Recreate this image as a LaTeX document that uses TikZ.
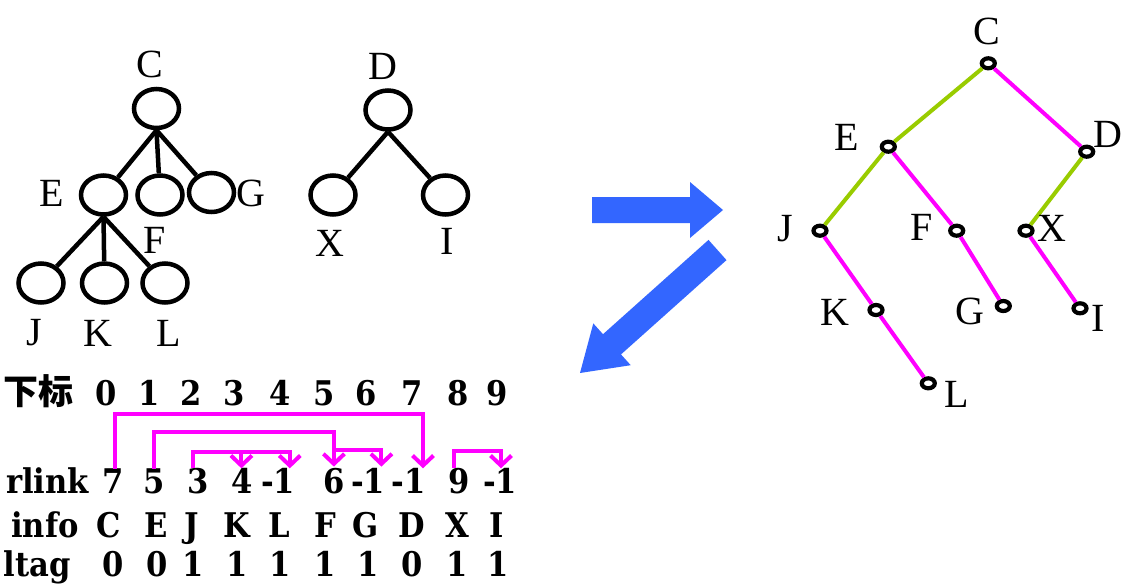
\documentclass[tikz,border=0pt]{standalone}
\usepackage{fontspec}
\setmainfont{Liberation Serif}
\newfontfamily\tabfont[FakeStretch=0.9]{DejaVu Serif}
\newfontfamily\cjk{Noto Sans CJK SC}
\usetikzlibrary{arrows.meta,shapes.geometric}
\definecolor{mag}{HTML}{FF00FF}
\definecolor{lgreen}{HTML}{99CC00}
\definecolor{arrblue}{HTML}{3366FF}
\begin{document}
\begin{tikzpicture}[x=1pt,y=-1pt,
  bigc/.style={ellipse,draw,line width=4.5pt,minimum width=45pt,minimum height=39pt,inner sep=0pt},
  smallc/.style={ellipse,draw,line width=4.2pt,minimum width=13pt,minimum height=10pt,inner sep=0pt},
  lab/.style={font=\fontsize{40}{40}\selectfont,inner sep=0pt},
  tedge/.style={line width=4.5pt},
  gedge/.style={line width=4pt,lgreen},
  medge/.style={line width=4pt,mag},
  tab/.style={font=\tabfont\bfseries\fontsize{34}{34}\selectfont,inner sep=0pt,anchor=base},
  link/.style={line width=4pt,mag},
  linkarr/.style={link,-{Straight Barb[length=10pt,width=21pt]}},
  bigarrow/.style={fill=arrblue,draw=none}
]
\useasboundingbox[fill=white] (0,0) rectangle (1121,584);

% ---------- left forest ----------
\node[bigc] (C) at (156.5,108.5) {};
\node[bigc] (E) at (103.5,195) {};
\node[bigc] (F) at (160,195) {};
\node[bigc] (G) at (211.5,192.5) {};
\node[bigc] (J) at (41,283) {};
\node[bigc] (K) at (104.5,283) {};
\node[bigc] (L) at (165,283) {};
\node[bigc] (D) at (388,110) {};
\node[bigc] (X) at (333,195) {};
\node[bigc] (I) at (445.5,195) {};

\draw[tedge] (C.south) -- (E);
\draw[tedge] (C.south) -- (F);
\draw[tedge] (C.south) -- (G);
\draw[tedge] (E.south) -- (J);
\draw[tedge] (E.south) -- (K);
\draw[tedge] (E.south) -- (L);
\draw[tedge] (D.south) -- (X);
\draw[tedge] (D.south) -- (I);

\node[lab] (lC) at (149.5,64.5) {C};
\node[lab] (lD) at (382.5,66) {D};
\node[lab] (lE) at (52,193) {E};
\node[lab] (lF) at (155,240) {F};
\node[lab] (lG) at (251,193) {G};
\node[lab] (lJ) at (34,333) {J};
\node[lab] (lK) at (98,333) {K};
\node[lab] (lL) at (169,333) {L};
\node[lab] (lX) at (329.5,243) {X};
\node[lab] (lI) at (447,241) {I};

% ---------- blue arrows ----------
\fill[bigarrow] (592,197) -- (690,197) -- (690,182) -- (723,210) -- (690,238) -- (690,223) -- (592,223) -- cycle;
\fill[bigarrow] (708.5,239.9) -- (726.5,260.1) -- (621.0,354.4) -- (630.7,365.2) -- (580,373) -- (593.3,323.4) -- (603.0,334.2) -- cycle;

% ---------- right binary tree ----------
\node[smallc] (rC) at (988.3,63.3) {};
\node[smallc] (rE) at (888.3,146.7) {};
\node[smallc] (rD) at (1086.7,151.7) {};
\node[smallc] (rJ) at (820,230.7) {};
\node[smallc] (rF) at (956.7,230.7) {};
\node[smallc] (rX) at (1026,230.7) {};
\node[smallc] (rK) at (876,310) {};
\node[smallc] (rG) at (1003.3,306) {};
\node[smallc] (rI) at (1080,308.3) {};
\node[smallc] (rL) at (928.3,383.3) {};

\draw[gedge] (rC) -- (rE);
\draw[gedge] (rE) -- (rJ);
\draw[gedge] (rD) -- (rX);
\draw[medge] (rC) -- (rD);
\draw[medge] (rE) -- (rF);
\draw[medge] (rF) -- (rG);
\draw[medge] (rJ) -- (rK);
\draw[medge] (rK) -- (rL);
\draw[medge] (rX) -- (rI);

\node[lab] (rlC) at (987,31) {C};
\node[lab] (rlE) at (847,137) {E};
\node[lab] (rlD) at (1108,134) {D};
\node[lab] (rlJ) at (785,229) {J};
\node[lab] (rlF) at (922,227) {F};
\node[lab] (rlX) at (1052,228) {X};
\node[lab] (rlK) at (835,312) {K};
\node[lab] (rlG) at (970,311) {G};
\node[lab] (rlI) at (1098,318) {I};
\node[lab] (rlL) at (957,394) {L};

% ---------- table ----------
\node[tab,font=\cjk\bfseries\fontsize{35}{35}\selectfont] (hd) at (38.5,404) {下标};
\foreach \v/\x [count=\i from 0] in {0/106,1/149,2/191,3/234,4/280,5/324,6/366,7/412,8/458,9/497}
  \node[tab] (ix\i) at (\x,405.5) {\v};

\node[tab] (hr) at (47.5,493.7) {rlink};
\foreach \v/\x [count=\i from 0] in {7/113.6,5/154,3/198,4/242,-1/278,6/334,-1/368,-1/408.5,9/459,-1/500}
  \node[tab] (r\i) at (\x,493.7) {\v};

\node[tab] (hi) at (45,537.8) {info};
\foreach \v/\x [count=\i from 0] in {C/108.5,E/156,J/191.5,K/237,L/279.7,F/325.4,G/366,D/412,X/457.6,I/496.6}
  \node[tab] (in\i) at (\x,537.8) {\v};

\node[tab] (hl) at (37,576) {ltag};
\foreach \v/\x [count=\i from 0] in {0/113.6,0/157.6,1/193,1/237,1/279.7,1/325.4,1/367.8,0/412,1/457.6,1/498.3}
  \node[tab] (lt\i) at (\x,576) {\v};

% ---------- links ----------
\coordinate (t7) at (423,468.3);
\coordinate (t5) at (333.9,466.6);
\coordinate (t6) at (381.4,466.6);
\coordinate (b56) at (333.9,450.3);
\coordinate (t3) at (241.4,468.3);
\coordinate (t4) at (289.8,468.3);
\coordinate (b34) at (241.4,452);
\coordinate (t9) at (501,468.3);

\draw[linkarr] ([xshift=1.7pt]r0.north) |- (423,414) -- (t7);
\draw[linkarr] (r1.north) |- (333.9,431.7) -- (t5);
\draw[linkarr] (b56) -| (t6);
\draw[linkarr] ([xshift=-5pt]r2.north) |- (289.8,452) -- (t4);
\draw[linkarr] (b34) -- (t3);
\draw[linkarr] ([xshift=-5pt]r8.north) |- (501,450.7) -- (t9);
\end{tikzpicture}
\end{document}
